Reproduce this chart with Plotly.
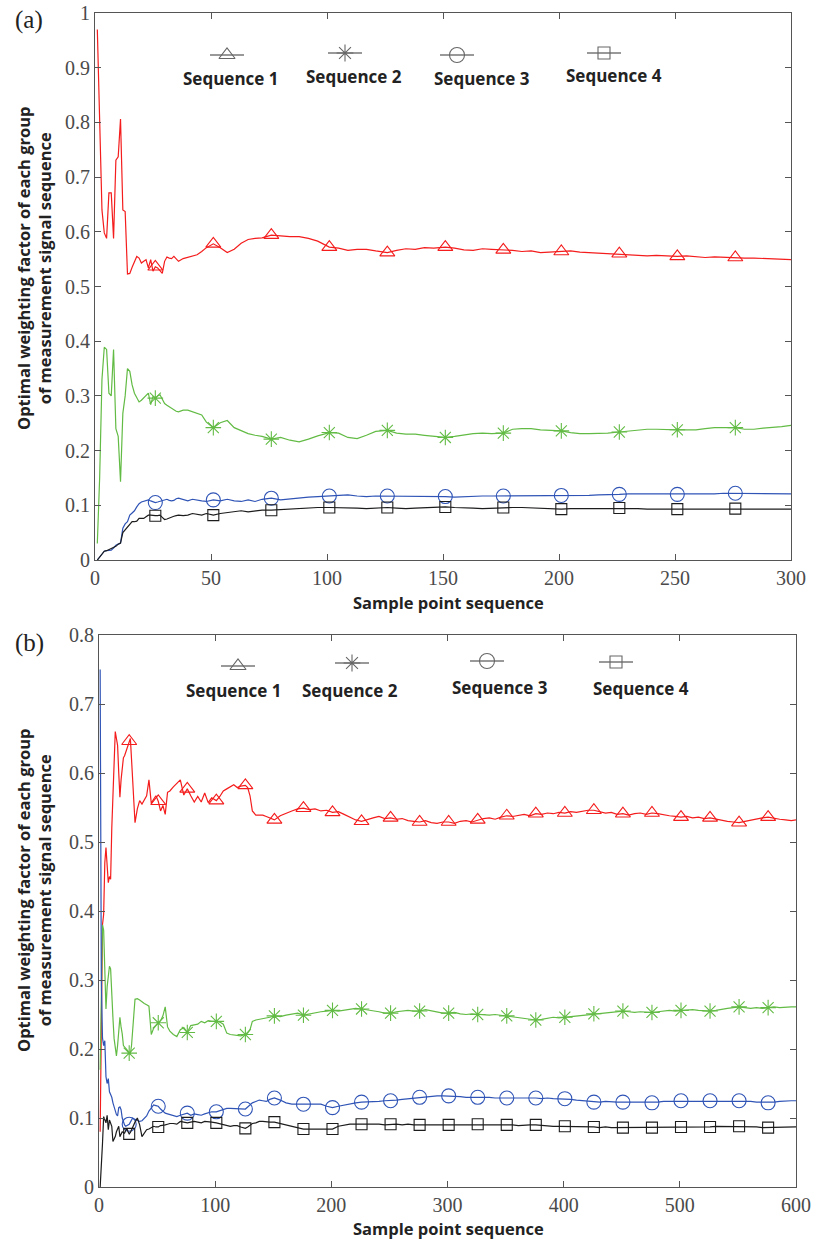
import plotly.graph_objects as go

W, H = 813, 1241

# ---------------- Panel (a) data ----------------
XA = [1, 2, 3, 4, 5, 6, 7, 8, 9, 10, 11, 12, 13, 14, 15, 16, 17, 18, 19, 20,
      21, 22, 23, 24, 25, 26, 27, 28, 29, 30, 31, 32, 33, 34, 35, 36,
      38, 40, 42, 44, 46, 48,
      51, 54, 57, 60, 63, 66, 69, 72,
      76, 80, 84, 88, 92, 96,
      101, 105, 109, 113, 117, 121,
      126, 130, 134, 138, 142, 146,
      151, 155, 159, 163, 167, 171,
      176, 180, 184, 188, 192, 196,
      201, 205, 209, 213, 217, 221,
      226, 230, 234, 238, 242, 246,
      251, 255, 259, 263, 267, 271,
      276, 280, 284, 288, 292, 296, 300]

SEQ1_A = [0.970, 0.800, 0.640, 0.598, 0.588, 0.671, 0.671, 0.588, 0.731, 0.737,
          0.806, 0.640, 0.637, 0.523, 0.524, 0.535, 0.546, 0.555, 0.552, 0.543,
          0.546, 0.549, 0.534, 0.549, 0.528, 0.536, 0.534, 0.528, 0.524, 0.546,
          0.554, 0.552, 0.551, 0.555, 0.550, 0.546,
          0.551, 0.553, 0.555, 0.558, 0.564, 0.571,
          0.578, 0.571, 0.562, 0.568, 0.579, 0.586, 0.588, 0.589,
          0.594, 0.592, 0.591, 0.591, 0.588, 0.583,
          0.572, 0.570, 0.566, 0.568, 0.568, 0.565,
          0.562, 0.566, 0.569, 0.568, 0.571, 0.570,
          0.572, 0.570, 0.567, 0.566, 0.569, 0.568,
          0.567, 0.566, 0.564, 0.565, 0.562, 0.563,
          0.564, 0.565, 0.563, 0.562, 0.561, 0.561,
          0.560, 0.559, 0.557, 0.556, 0.557, 0.556,
          0.555, 0.556, 0.554, 0.553, 0.554, 0.553,
          0.553, 0.552, 0.552, 0.551, 0.550, 0.550, 0.549]

SEQ2_A = [0.030, 0.150, 0.330, 0.389, 0.385, 0.305, 0.300, 0.385, 0.240, 0.226,
          0.143, 0.268, 0.300, 0.350, 0.345, 0.320, 0.305, 0.296, 0.289, 0.292,
          0.296, 0.300, 0.305, 0.284, 0.299, 0.296, 0.300, 0.302, 0.295, 0.286,
          0.283, 0.280, 0.277, 0.274, 0.272, 0.271,
          0.274, 0.274, 0.271, 0.269, 0.265, 0.252,
          0.242, 0.251, 0.255, 0.242, 0.237, 0.231, 0.228, 0.226,
          0.221, 0.224, 0.219, 0.216, 0.221, 0.227,
          0.233, 0.232, 0.224, 0.222, 0.228, 0.235,
          0.237, 0.232, 0.230, 0.230, 0.228, 0.226,
          0.224, 0.226, 0.229, 0.231, 0.232, 0.231,
          0.232, 0.239, 0.240, 0.240, 0.238, 0.237,
          0.236, 0.233, 0.231, 0.231, 0.231, 0.232,
          0.234, 0.236, 0.238, 0.239, 0.239, 0.238,
          0.238, 0.238, 0.238, 0.240, 0.242, 0.242,
          0.242, 0.239, 0.239, 0.241, 0.242, 0.244, 0.246]

SEQ3_A = [0.000, 0.005, 0.010, 0.016, 0.017, 0.018, 0.018, 0.022, 0.027, 0.029,
          0.031, 0.058, 0.066, 0.070, 0.082, 0.086, 0.090, 0.097, 0.103, 0.106,
          0.107, 0.109, 0.110, 0.108, 0.106, 0.105, 0.106, 0.107, 0.109, 0.110,
          0.111, 0.109, 0.108, 0.109, 0.112, 0.113,
          0.110, 0.108, 0.111, 0.109, 0.108, 0.107,
          0.110, 0.108, 0.111, 0.108, 0.107, 0.110, 0.107, 0.111,
          0.113, 0.110, 0.112, 0.114, 0.115, 0.116,
          0.117, 0.118, 0.119, 0.117, 0.116, 0.117,
          0.117, 0.116, 0.116, 0.117, 0.117, 0.116,
          0.116, 0.115, 0.116, 0.117, 0.117, 0.117,
          0.117, 0.118, 0.118, 0.118, 0.118, 0.117,
          0.118, 0.117, 0.117, 0.118, 0.119, 0.119,
          0.120, 0.121, 0.121, 0.120, 0.120, 0.120,
          0.120, 0.121, 0.121, 0.121, 0.121, 0.122,
          0.122, 0.121, 0.121, 0.121, 0.121, 0.121, 0.121]

SEQ4_A = [0.000, 0.005, 0.010, 0.016, 0.017, 0.019, 0.021, 0.022, 0.025, 0.029,
          0.031, 0.050, 0.055, 0.061, 0.066, 0.070, 0.070, 0.071, 0.076, 0.076,
          0.076, 0.079, 0.082, 0.082, 0.081, 0.081, 0.081, 0.082, 0.078, 0.074,
          0.075, 0.077, 0.079, 0.080, 0.081, 0.082,
          0.081, 0.082, 0.085, 0.083, 0.082, 0.085,
          0.082, 0.085, 0.087, 0.089, 0.090, 0.088, 0.090, 0.091,
          0.091, 0.092, 0.094, 0.094, 0.096, 0.096,
          0.096, 0.096, 0.096, 0.095, 0.094, 0.095,
          0.096, 0.095, 0.094, 0.095, 0.096, 0.096,
          0.097, 0.096, 0.096, 0.095, 0.094, 0.095,
          0.096, 0.096, 0.096, 0.095, 0.094, 0.094,
          0.093, 0.094, 0.094, 0.094, 0.094, 0.095,
          0.095, 0.094, 0.094, 0.093, 0.093, 0.093,
          0.093, 0.093, 0.093, 0.093, 0.094, 0.094,
          0.094, 0.094, 0.094, 0.094, 0.093, 0.093, 0.093]

# ---------------- Panel (b) data ----------------
XB = [1, 2, 3, 4, 5, 6, 7, 8, 9, 10, 11, 12, 13, 14, 15, 16, 17, 18, 19, 20,
      21, 22, 23, 24, 25, 26, 27, 28, 29, 30,
      31, 33, 35, 37, 39, 41, 43, 45, 47, 49, 51, 53, 55, 57, 59, 61,
      64, 67, 70, 73, 76, 79, 82, 85, 88, 91, 94, 97,
      101, 104, 107, 110, 113, 116, 119, 122,
      126, 128, 130, 132, 135, 138, 141, 144, 147,
      151, 156, 161, 166, 171, 176, 181, 186, 191, 196,
      201, 206, 211, 216, 221, 226, 231, 236, 241, 246,
      251, 256, 261, 266, 271, 276, 281, 286, 291, 296,
      301, 306, 311, 316, 321, 326, 331, 336, 341, 346,
      351, 356, 361, 366, 371, 376, 381, 386, 391, 396,
      401, 406, 411, 416, 421, 426, 431, 436, 441, 446,
      451, 456, 461, 466, 471, 476, 481, 486, 491, 496,
      501, 506, 511, 516, 521, 526, 531, 536, 541, 546,
      551, 556, 561, 566, 571, 576, 581, 586, 591, 596,
      600]

SEQ1_B = [0.080, 0.250, 0.380, 0.395, 0.470, 0.492, 0.460, 0.441, 0.450, 0.446,
          0.520, 0.577, 0.625, 0.660, 0.650, 0.640, 0.600, 0.565, 0.590, 0.605,
          0.622, 0.625, 0.630, 0.633, 0.640, 0.646, 0.650, 0.620, 0.585, 0.545,
          0.528, 0.548, 0.560, 0.555, 0.562, 0.567, 0.590, 0.556, 0.562, 0.567,
          0.559, 0.545, 0.553, 0.540, 0.572, 0.574,
          0.580, 0.585, 0.590, 0.568, 0.577, 0.567, 0.558, 0.566, 0.558, 0.571,
          0.557, 0.564,
          0.560, 0.566, 0.574, 0.577, 0.580, 0.583, 0.579, 0.581,
          0.582, 0.579, 0.567, 0.545, 0.539, 0.539, 0.539, 0.537, 0.535,
          0.532, 0.538, 0.542, 0.545, 0.548, 0.549, 0.547, 0.548, 0.545, 0.546,
          0.543, 0.544, 0.540, 0.536, 0.532, 0.530, 0.533, 0.535, 0.537, 0.534,
          0.535, 0.533, 0.534, 0.531, 0.530, 0.529, 0.531, 0.528, 0.527, 0.529,
          0.529, 0.527, 0.530, 0.531, 0.529, 0.532, 0.534, 0.535, 0.533, 0.536,
          0.538, 0.537, 0.539, 0.540, 0.538, 0.541, 0.540, 0.542, 0.541, 0.543,
          0.542, 0.544, 0.543, 0.545, 0.546, 0.546, 0.544, 0.542, 0.543, 0.540,
          0.541, 0.539, 0.541, 0.542, 0.540, 0.542, 0.541, 0.539, 0.538, 0.537,
          0.536, 0.537, 0.535, 0.536, 0.534, 0.535, 0.533, 0.532, 0.530, 0.529,
          0.528, 0.530, 0.532, 0.534, 0.535, 0.536, 0.534, 0.533, 0.532, 0.531,
          0.532]

SEQ2_B = [0.170, 0.300, 0.380, 0.372, 0.300, 0.258, 0.290, 0.306, 0.320, 0.316,
          0.270, 0.245, 0.215, 0.200, 0.190, 0.205, 0.228, 0.246, 0.232, 0.222,
          0.205, 0.203, 0.201, 0.200, 0.197, 0.194, 0.193, 0.205, 0.222, 0.250,
          0.272, 0.273, 0.271, 0.268, 0.266, 0.264, 0.262, 0.221, 0.230, 0.234,
          0.238, 0.241, 0.248, 0.261, 0.232, 0.226,
          0.221, 0.218, 0.228, 0.231, 0.224, 0.234, 0.235, 0.236, 0.240, 0.238,
          0.241, 0.240,
          0.240, 0.239, 0.236, 0.223, 0.221, 0.220, 0.219, 0.219,
          0.221, 0.223, 0.228, 0.240, 0.242, 0.243, 0.243, 0.244, 0.246,
          0.248, 0.247, 0.249, 0.251, 0.252, 0.249, 0.251, 0.253, 0.254, 0.255,
          0.256, 0.255, 0.256, 0.258, 0.259, 0.258, 0.257, 0.255, 0.254, 0.252,
          0.252, 0.254, 0.255, 0.256, 0.255, 0.255, 0.257, 0.255, 0.253, 0.252,
          0.252, 0.253, 0.251, 0.250, 0.251, 0.250, 0.250, 0.249, 0.250, 0.249,
          0.248, 0.247, 0.246, 0.245, 0.243, 0.242, 0.243, 0.244, 0.246, 0.245,
          0.246, 0.247, 0.248, 0.249, 0.250, 0.251, 0.252, 0.253, 0.254, 0.254,
          0.255, 0.254, 0.253, 0.254, 0.253, 0.253, 0.254, 0.255, 0.256, 0.255,
          0.256, 0.256, 0.257, 0.256, 0.255, 0.255, 0.256, 0.258, 0.259, 0.260,
          0.261, 0.260, 0.259, 0.260, 0.259, 0.260, 0.261, 0.260, 0.261, 0.261,
          0.261]

SEQ3_B = [0.750, 0.300, 0.216, 0.205, 0.212, 0.160, 0.150, 0.157, 0.138, 0.134,
          0.130, 0.122, 0.115, 0.110, 0.105, 0.103, 0.115, 0.116, 0.112, 0.100,
          0.093, 0.090, 0.088, 0.089, 0.090, 0.091, 0.094, 0.098, 0.100, 0.099,
          0.098, 0.097, 0.095, 0.096, 0.099, 0.103, 0.110, 0.115, 0.119, 0.118,
          0.117, 0.113, 0.110, 0.107, 0.106, 0.105,
          0.103, 0.102, 0.104, 0.105, 0.107, 0.104, 0.106, 0.105, 0.104, 0.106,
          0.108, 0.109,
          0.109, 0.111, 0.113, 0.114, 0.114, 0.114, 0.113, 0.113,
          0.113, 0.116, 0.119, 0.122, 0.124, 0.126, 0.125, 0.124, 0.127,
          0.129, 0.126, 0.122, 0.120, 0.120, 0.120, 0.119, 0.119, 0.120, 0.117,
          0.115, 0.117, 0.119, 0.121, 0.122, 0.123, 0.123, 0.124, 0.124, 0.125,
          0.125, 0.126, 0.127, 0.128, 0.129, 0.130, 0.131, 0.131, 0.132, 0.132,
          0.132, 0.131, 0.131, 0.130, 0.130, 0.130, 0.131, 0.130, 0.129, 0.129,
          0.129, 0.129, 0.130, 0.129, 0.129, 0.129, 0.128, 0.129, 0.128, 0.128,
          0.128, 0.127, 0.126, 0.125, 0.124, 0.123, 0.123, 0.124, 0.123, 0.123,
          0.123, 0.123, 0.122, 0.122, 0.122, 0.122, 0.123, 0.124, 0.124, 0.125,
          0.125, 0.125, 0.125, 0.124, 0.125, 0.125, 0.125, 0.125, 0.125, 0.125,
          0.125, 0.124, 0.124, 0.123, 0.123, 0.122, 0.123, 0.124, 0.125, 0.125,
          0.125]

SEQ4_B = [0.000, 0.025, 0.063, 0.102, 0.098, 0.093, 0.104, 0.083, 0.097, 0.092,
          0.088, 0.066, 0.070, 0.073, 0.080, 0.084, 0.088, 0.073, 0.077, 0.080,
          0.079, 0.078, 0.082, 0.085, 0.080, 0.077, 0.079, 0.083, 0.086, 0.090,
          0.094, 0.100, 0.090, 0.073, 0.079, 0.083, 0.084, 0.086, 0.088, 0.087,
          0.087, 0.089, 0.089, 0.090, 0.091, 0.092,
          0.092, 0.091, 0.095, 0.094, 0.093, 0.094, 0.095, 0.094, 0.093, 0.095,
          0.094, 0.094,
          0.093, 0.092, 0.091, 0.089, 0.088, 0.089, 0.089, 0.087,
          0.085, 0.087, 0.090, 0.092, 0.093, 0.095, 0.095, 0.094, 0.094,
          0.094, 0.092, 0.090, 0.088, 0.086, 0.084, 0.084, 0.084, 0.084, 0.084,
          0.084, 0.088, 0.090, 0.091, 0.091, 0.091, 0.092, 0.091, 0.091, 0.090,
          0.091, 0.091, 0.090, 0.091, 0.090, 0.090, 0.090, 0.091, 0.090, 0.090,
          0.090, 0.091, 0.090, 0.091, 0.091, 0.091, 0.090, 0.091, 0.090, 0.090,
          0.090, 0.090, 0.089, 0.090, 0.090, 0.090, 0.089, 0.089, 0.088, 0.088,
          0.088, 0.088, 0.087, 0.087, 0.087, 0.087, 0.086, 0.087, 0.086, 0.086,
          0.086, 0.086, 0.087, 0.086, 0.086, 0.086, 0.087, 0.087, 0.087, 0.087,
          0.087, 0.087, 0.087, 0.087, 0.087, 0.087, 0.088, 0.088, 0.088, 0.088,
          0.088, 0.087, 0.087, 0.087, 0.086, 0.086, 0.086, 0.087, 0.087, 0.087,
          0.087]

MARK_A = [26, 51, 76, 101, 126, 151, 176, 201, 226, 251, 276]
MARK_B = [26, 51, 76, 101, 126, 151, 176, 201, 226, 251, 276, 301,
          326, 351, 376, 401, 426, 451, 476, 501, 526, 551, 576]

SERIES_NAMES = ["Sequence 1", "Sequence 2", "Sequence 3", "Sequence 4"]
XTICKS_A = [0, 50, 100, 150, 200, 250, 300]
YTICKS_A = [0, 0.1, 0.2, 0.3, 0.4, 0.5, 0.6, 0.7, 0.8, 0.9, 1]
XTICKS_B = [0, 100, 200, 300, 400, 500, 600]
YTICKS_B = [0, 0.1, 0.2, 0.3, 0.4, 0.5, 0.6, 0.7, 0.8]

for name, arr, ref in [("A", [SEQ1_A, SEQ2_A, SEQ3_A, SEQ4_A], XA),
                       ("B", [SEQ1_B, SEQ2_B, SEQ3_B, SEQ4_B], XB)]:
    for i, a in enumerate(arr):
        if len(a) != len(ref):
            raise SystemExit(f"length mismatch {name}{i+1}: {len(a)} vs {len(ref)}")

# ---------------- styling ----------------
COLORS = ["#f41c1c", "#62bb44", "#2f54b6", "#1c1c1c"]
SYMBOLS = ["triangle-up-open", "asterisk-open", "circle-open", "square-open"]
SIZES = [13, 13, 14, 11]
AXC = "#555555"
TICKFONT = dict(family="Liberation Serif", size=20, color="#4a4a4a")
SANS = "Open Sans"

fig = go.Figure()


def add_panel(xs, series, marks, xa, ya):
    for ys, c, sym, sz in zip(series, COLORS, SYMBOLS, SIZES):
        fig.add_trace(go.Scatter(x=xs, y=ys, mode="lines",
                                 line=dict(color=c, width=1.2),
                                 xaxis=xa, yaxis=ya, showlegend=False,
                                 hoverinfo="skip"))
        mx = [x for x in xs if x in marks]
        my = [y for x, y in zip(xs, ys) if x in marks]
        fig.add_trace(go.Scatter(x=mx, y=my, mode="markers",
                                 marker=dict(symbol=sym, size=sz, color=c,
                                             line=dict(color=c, width=1.1)),
                                 xaxis=xa, yaxis=ya, showlegend=False,
                                 hoverinfo="skip"))


add_panel(XA, [SEQ1_A, SEQ2_A, SEQ3_A, SEQ4_A], MARK_A, "x", "y")
add_panel(XB, [SEQ1_B, SEQ2_B, SEQ3_B, SEQ4_B], MARK_B, "x2", "y2")

# legend glyphs drawn on a pixel-space overlay axis
LEG_A_SYM = [(227, 55), (345, 53), (457, 55), (604, 53)]
LEG_A_TXT = [(230, 78), (354, 76), (482, 78), (614, 75)]
LEG_B_SYM = [(238, 666), (352, 663), (487, 661), (616, 662)]
LEG_B_TXT = [(233, 690), (350, 690), (500, 687), (641, 688)]
HALF = 17

for syms in (LEG_A_SYM, LEG_B_SYM):
    for (cx, cy), sym, sz in zip(syms, SYMBOLS, SIZES):
        fig.add_trace(go.Scatter(x=[cx - HALF, cx + HALF], y=[cy, cy], mode="lines",
                                 line=dict(color="#777777", width=1.4),
                                 xaxis="x3", yaxis="y3", showlegend=False,
                                 hoverinfo="skip"))
        fig.add_trace(go.Scatter(x=[cx], y=[cy], mode="markers",
                                 marker=dict(symbol=sym, size=sz + 1, color="#666666",
                                             line=dict(color="#666666", width=1.1)),
                                 xaxis="x3", yaxis="y3", showlegend=False,
                                 hoverinfo="skip"))

annotations = []
for txts in (LEG_A_TXT, LEG_B_TXT):
    for (cx, cy), nm in zip(txts, SERIES_NAMES):
        annotations.append(dict(x=cx / W, y=1 - cy / H, xref="paper", yref="paper",
                                text=f"<b>{nm}</b>", showarrow=False,
                                xanchor="center", yanchor="middle",
                                font=dict(family=SANS, size=17, color="#222222")))

# panel labels
for lab, (px, py) in [("(a)", (29, 20)), ("(b)", (29, 643))]:
    annotations.append(dict(x=px / W, y=1 - py / H, xref="paper", yref="paper",
                            text=lab, showarrow=False, xanchor="center", yanchor="middle",
                            font=dict(family="Liberation Serif", size=25, color="#222222")))

# axis titles
for (px, py) in [(448, 603), (449, 1228)]:
    annotations.append(dict(x=px / W, y=1 - py / H, xref="paper", yref="paper",
                            text="<b>Sample point sequence</b>", showarrow=False,
                            xanchor="center", yanchor="middle",
                            font=dict(family=SANS, size=16.5, color="#222222")))
for (px, py) in [(34, 268), (34, 890)]:
    annotations.append(dict(x=px / W, y=1 - py / H, xref="paper", yref="paper",
                            text="<b>Optimal weighting factor of each group</b><br>"
                                 "<b>of measurement signal sequence</b>",
                            showarrow=False, textangle=-90,
                            xanchor="center", yanchor="middle",
                            font=dict(family=SANS, size=16.5, color="#222222")))


def axis(domain, rng, ticks, anchor):
    return dict(domain=domain, range=rng, tickvals=ticks, ticks="inside", ticklen=6,
                tickcolor=AXC, tickwidth=1, showline=True, linecolor=AXC, linewidth=1,
                mirror="ticks", showgrid=False, zeroline=False, tickfont=TICKFONT,
                anchor=anchor, fixedrange=True, automargin=False,
                ticklabeloverflow="allow")


fig.update_layout(
    width=W, height=H,
    margin=dict(l=0, r=0, t=0, b=0, autoexpand=False),
    paper_bgcolor="white", plot_bgcolor="rgba(0,0,0,0)",
    xaxis=axis([95 / W, 791 / W], [0, 300], XTICKS_A, "y"),
    yaxis=axis([1 - 560 / H, 1 - 13 / H], [0, 1], YTICKS_A, "x"),
    xaxis2=axis([99 / W, 796 / W], [0, 600], XTICKS_B, "y2"),
    yaxis2=axis([1 - 1187 / H, 1 - 635 / H], [0, 0.8], YTICKS_B, "x2"),
    xaxis3=dict(domain=[0, 1], range=[0, W], visible=False, anchor="y3",
                fixedrange=True, automargin=False),
    yaxis3=dict(domain=[0, 1], range=[H, 0], visible=False, anchor="x3",
                fixedrange=True, automargin=False),
    annotations=annotations,
    showlegend=False,
)

fig.write_html("out.html", config={"displayModeBar": False},
               post_script="document.body.style.margin='0px';"
                           "document.body.style.overflow='hidden';")
